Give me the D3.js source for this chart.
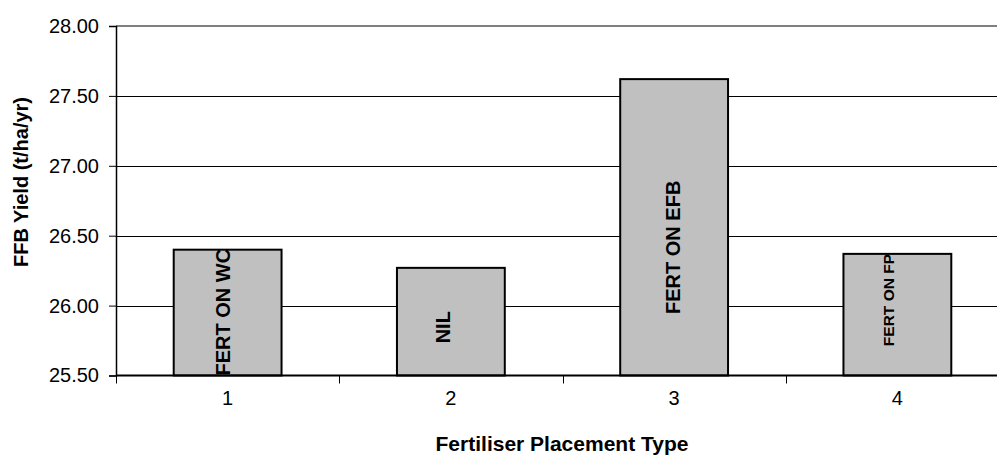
<!DOCTYPE html>
<html>
<head>
<meta charset="utf-8">
<script src="https://cdn.jsdelivr.net/npm/d3@7"></script>
<style>
  body { margin: 0; background: #fff; }
  text { font-family: "Liberation Sans", Arial, sans-serif; }
</style>
</head>
<body>
<div id="chart"></div>
<script>
// data
var categories = ["1", "2", "3", "4"];
var yields = [26.40, 26.27, 27.62, 26.37];
var barLabels = ["FERT ON WC", "NIL", "FERT ON EFB", "FERT ON FP"];
var yTicks = [25.5, 26.0, 26.5, 27.0, 27.5, 28.0];

// label placement / look (not data)
var labelStyle = [
  { start: 25.50, dx: 2, size: 20, clip: false },
  { start: 25.73, dx: -1, size: 20, clip: false },
  { start: 25.94, dx: 6, size: 20, clip: false },
  { start: 25.71, dx: -3, size: 15.5, clip: true }
];

var width = 997, height = 455;
var margin = { top: 26, left: 116, bottom: 80 };

var svg = d3.select("#chart").append("svg")
  .attr("width", width)
  .attr("height", height);

var xScale = d3.scaleBand()
  .domain(categories)
  .range([margin.left, 1009])
  .paddingInner(0.517)
  .paddingOuter(0.2585);

var yScale = d3.scaleLinear()
  .domain([25.5, 28])
  .range([375.5, margin.top]);

// gridlines
svg.append("g")
  .selectAll("line")
  .data(yTicks.filter(function (d) { return d > 25.5 && d < 28; }))
  .enter()
  .append("line")
  .attr("x1", margin.left)
  .attr("x2", 1009)
  .attr("y1", function (d) { return Math.round(yScale(d)) + 0.5; })
  .attr("y2", function (d) { return Math.round(yScale(d)) + 0.5; })
  .attr("stroke", "#000")
  .attr("stroke-width", 1);

// top border of plot area
svg.append("line")
  .attr("x1", margin.left)
  .attr("x2", 1009)
  .attr("y1", yScale(28))
  .attr("y2", yScale(28))
  .attr("stroke", "#808080")
  .attr("stroke-width", 2);

// bars
var bars = svg.append("g")
  .selectAll("rect")
  .data(yields)
  .enter()
  .append("rect")
  .attr("x", function (d, i) { return xScale(categories[i]); })
  .attr("y", function (d) { return yScale(d); })
  .attr("width", xScale.bandwidth())
  .attr("height", function (d) { return yScale(25.5) - yScale(d); })
  .attr("fill", "#c0c0c0")
  .attr("stroke", "#000")
  .attr("stroke-width", 2);

// clip paths for labels that get cut at the bar top
var defs = svg.append("defs");
yields.forEach(function (d, i) {
  defs.append("clipPath")
    .attr("id", "clip" + i)
    .append("rect")
    .attr("x", xScale(categories[i]))
    .attr("y", yScale(d))
    .attr("width", xScale.bandwidth())
    .attr("height", yScale(25.5) - yScale(d));
});

// bar labels (rotated)
svg.append("g")
  .selectAll("g")
  .data(barLabels)
  .enter()
  .append("g")
  .attr("clip-path", function (d, i) { return labelStyle[i].clip ? "url(#clip" + i + ")" : null; })
  .append("text")
  .attr("transform", function (d, i) {
    var x = xScale(categories[i]) + xScale.bandwidth() / 2 + labelStyle[i].dx;
    var y = yScale(labelStyle[i].start);
    return "translate(" + x + "," + y + ") rotate(-90)";
  })
  .attr("text-anchor", "start")
  .attr("font-weight", "bold")
  .attr("font-size", function (d, i) { return labelStyle[i].size + "px"; })
  .attr("fill", "#000")
  .text(function (d) { return d; });

// axis-y
var yAxis = svg.append("g")
  .attr("transform", "translate(" + margin.left + ",0)")
  .call(d3.axisLeft(yScale)
    .tickValues(yTicks)
    .tickSize(7)
    .tickPadding(10)
    .tickFormat(d3.format(".2f")));
yAxis.select(".domain").attr("stroke", "#000").attr("stroke-width", 1.5);
yAxis.selectAll(".tick line").attr("stroke", "#000");
yAxis.selectAll("text")
  .attr("font-size", "20px")
  .attr("font-family", "Liberation Sans, Arial, sans-serif")
  .attr("fill", "#000");

// axis-x: line, ticks at category boundaries, labels centred
var xAxis = svg.append("g");
xAxis.append("line")
  .attr("x1", margin.left)
  .attr("x2", 1009)
  .attr("y1", yScale(25.5))
  .attr("y2", yScale(25.5))
  .attr("stroke", "#000")
  .attr("stroke-width", 2);

var step = xScale.step();
var bounds = categories.map(function (c) { return xScale(c) - xScale.paddingOuter() * step; });
xAxis.selectAll(".xtick")
  .data(bounds)
  .enter()
  .append("line")
  .attr("class", "xtick")
  .attr("x1", function (d) { return Math.round(d) + 0.5; })
  .attr("x2", function (d) { return Math.round(d) + 0.5; })
  .attr("y1", yScale(25.5))
  .attr("y2", yScale(25.5) + 8)
  .attr("stroke", "#000");

xAxis.selectAll(".xlabel")
  .data(categories)
  .enter()
  .append("text")
  .attr("class", "xlabel")
  .attr("x", function (d) { return xScale(d) + xScale.bandwidth() / 2; })
  .attr("y", 405)
  .attr("text-anchor", "middle")
  .attr("font-size", "20px")
  .text(function (d) { return d; });

// axis titles
svg.append("text")
  .attr("x", 562)
  .attr("y", 451)
  .attr("text-anchor", "middle")
  .attr("font-weight", "bold")
  .attr("font-size", "21px")
  .text("Fertiliser Placement Type");

svg.append("text")
  .attr("transform", "translate(28," + 182 + ") rotate(-90)")
  .attr("text-anchor", "middle")
  .attr("font-weight", "bold")
  .attr("font-size", "20px")
  .text("FFB Yield (t/ha/yr)");
</script>
</body>
</html>
